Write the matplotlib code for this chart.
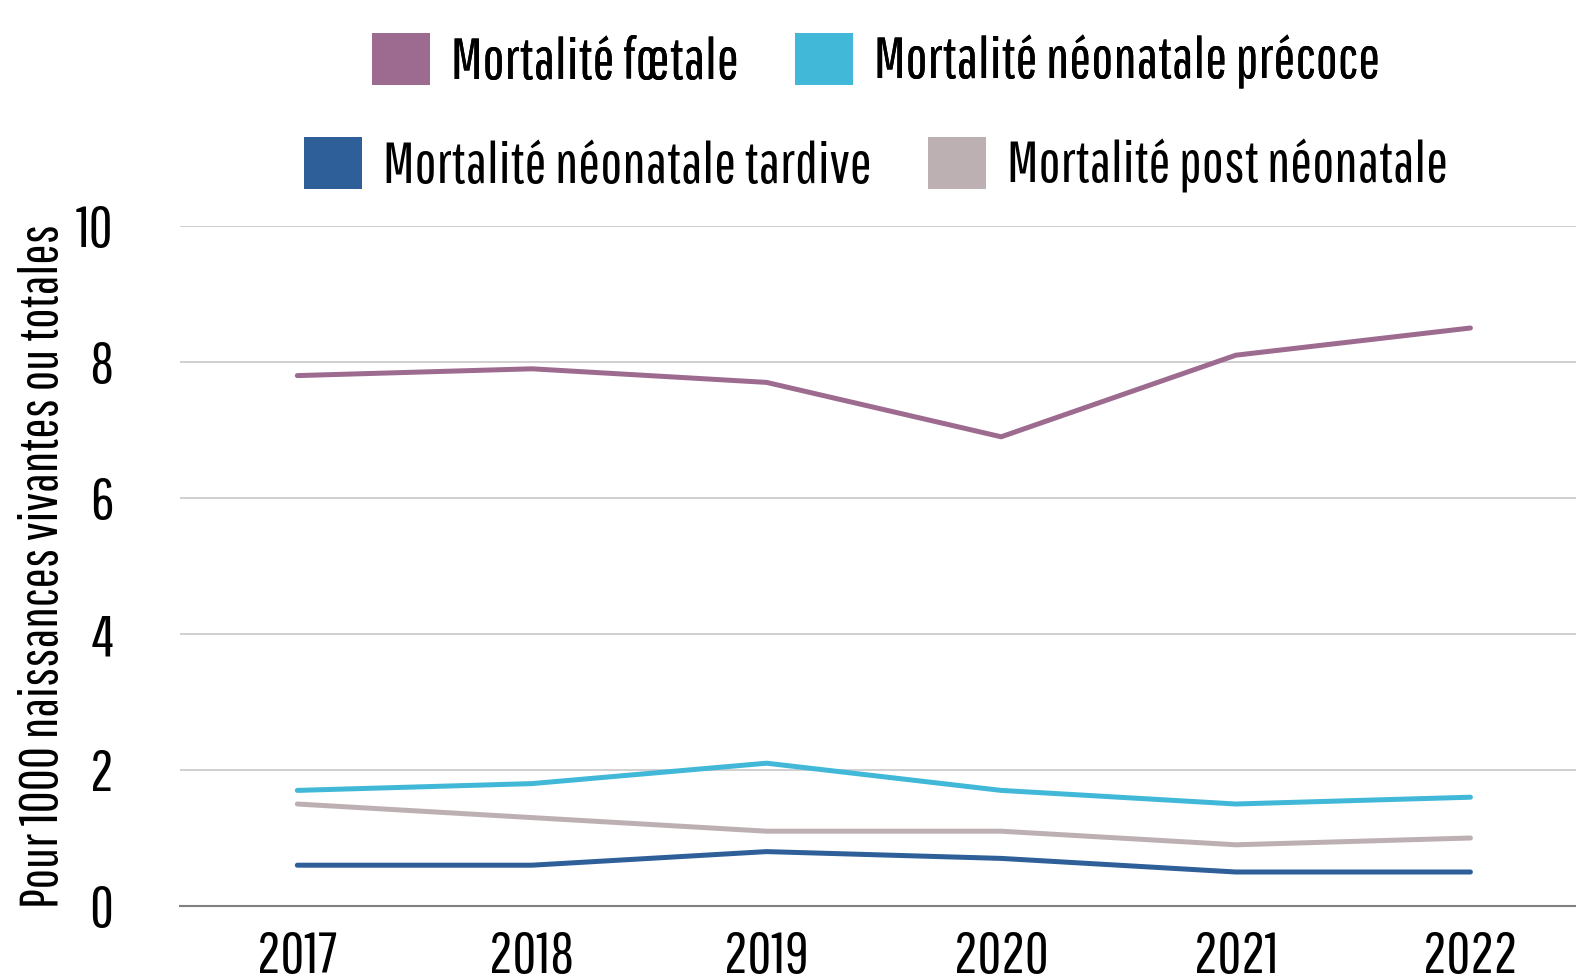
import matplotlib
matplotlib.use("Agg")
import matplotlib.pyplot as plt
from matplotlib.patches import Patch

# Data (pour 1000 naissances)
years = ["2017", "2018", "2019", "2020", "2021", "2022"]
foetale = [7.8, 7.9, 7.7, 6.9, 8.1, 8.5]
precoce = [1.7, 1.8, 2.1, 1.7, 1.5, 1.6]
tardive = [0.6, 0.6, 0.8, 0.7, 0.5, 0.5]
post = [1.5, 1.3, 1.1, 1.1, 0.9, 1.0]

labels = ["Mortalité fœtale", "Mortalité néonatale précoce",
          "Mortalité néonatale tardive", "Mortalité post néonatale"]
colors = ["#9E6B90", "#41B8D7", "#2E5F99", "#BDB0B2"]

plt.rcParams['font.family'] = ['Pathway Gothic One', 'League Gothic', 'DejaVu Sans']

fig = plt.figure(figsize=(15.76, 9.76), dpi=100)
ax = fig.add_axes([180/1576, 1 - 906/976, 1 - 180/1576, (906 - 226)/976])

x = range(len(years))
series = [foetale, precoce, tardive, post]
for s, c in zip(series, colors):
    ax.plot(x, s, color=c, lw=3.6, solid_capstyle='round')

ax.set_xlim(-0.5, 5.45)
ax.set_ylim(0, 10)
ax.set_yticks([0, 2, 4, 6, 8, 10])
ax.set_xticks(list(x))
ax.set_xticklabels(years)
ax.yaxis.grid(True, color="#C8C8C8", lw=1.2)
ax.set_axisbelow(True)
for sp in ["top", "right", "left"]:
    ax.spines[sp].set_visible(False)
ax.spines["bottom"].set_color("#808080")
ax.spines["bottom"].set_linewidth(1.5)
ax.tick_params(axis="both", length=0, labelsize=42)
ax.tick_params(axis="x", pad=18)
ax.tick_params(axis="y", pad=48)
ax.set_ylabel("Pour 1000 naissances vivantes ou totales", fontsize=39)
ax.yaxis.set_label_coords(-0.08, 0.5)

handles = [Patch(facecolor=c, edgecolor="none") for c in colors]
leg_kw = dict(ncol=2, loc="center", frameon=False, fontsize=42,
              handlelength=1.0, handleheight=1.0, columnspacing=0.95,
              handletextpad=0.36)
leg1 = fig.legend(handles[:2], labels[:2],
                  bbox_to_anchor=(0.556, 1 - 61/976), **leg_kw)
fig.add_artist(leg1)
fig.legend(handles[2:], labels[2:],
           bbox_to_anchor=(0.556, 1 - 165/976), **leg_kw)

fig.savefig("out.png", dpi=100)
